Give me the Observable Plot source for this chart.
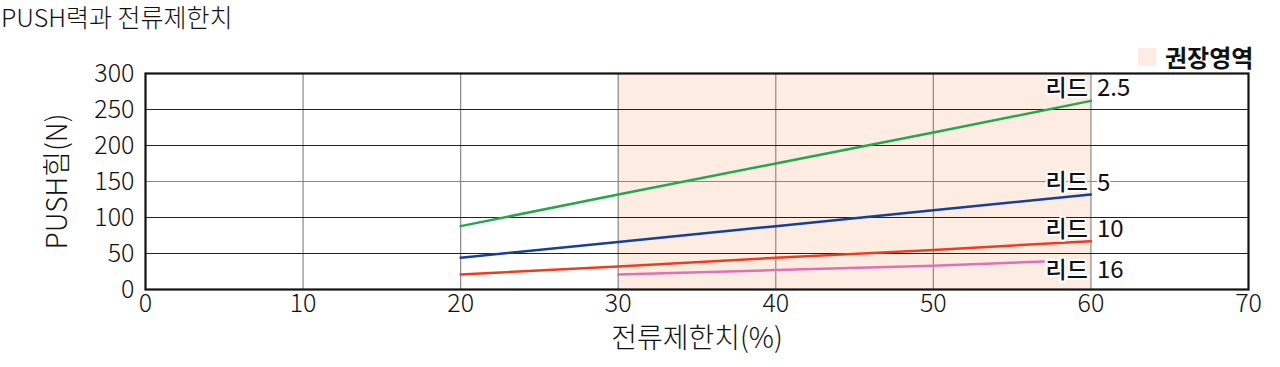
<!DOCTYPE html>
<html><head><meta charset="utf-8">
<script src="https://cdn.jsdelivr.net/npm/d3@7"></script>
<script src="https://cdn.jsdelivr.net/npm/@observablehq/plot@0.6"></script>
<style>
body{margin:0;background:#fff;font-family:"Noto Sans CJK KR","Noto Sans",sans-serif;}
#wrap{position:relative;width:1280px;height:367px;}
#title{position:absolute;left:1px;top:0px;font-size:25px;font-weight:300;color:#111;line-height:32px;}
#legend{position:absolute;left:1138px;top:42px;font-size:24px;font-weight:bold;color:#111;display:flex;align-items:center;line-height:30px;}
#legend span.sw{display:inline-block;width:18px;height:18px;background:#fdece2;margin-right:9px;}
#chart{position:absolute;left:0;top:38px;}
#chart g[aria-label="x-axis label"], #chart g[aria-label="y-axis label"]{font-size:28px;}
</style></head>
<body><div id="wrap"><div id="title">PUSH력과 전류제한치</div>
<div id="legend"><span class="sw"></span><span>권장영역</span></div>
<div id="chart"></div></div>
<script>
const currentLimit = [20, 30, 40, 50, 60];
const lead25 = [88, 132, 175, 218, 262];
const lead5 = [44, 66, 88, 110, 132];
const lead10 = [21, 32, 44, 55, 67];
const lead16X = [30, 40, 50, 57];
const lead16 = [21, 27, 33, 39];
const seriesNames = ["2.5", "5", "10", "16"];
const seriesColors = ["#25a84b", "#143f9b", "#f03c1c", "#e070b8"];
const labelY = [279, 148, 83, 26];
const xTicks = [0, 10, 20, 30, 40, 50, 60, 70];
const yTicks = [0, 50, 100, 150, 200, 250, 300];
const recommended = [30, 60];

const rows = [];
[lead25, lead5, lead10].forEach((vals, i) => vals.forEach((v, j) => rows.push({s: seriesNames[i], x: currentLimit[j], y: v})));
lead16.forEach((v, j) => rows.push({s: "16", x: lead16X[j], y: v}));
const labels = seriesNames.map((s, i) => ({s, x: 60, y: labelY[i]}));

const chart = Plot.plot({
  width: 1280, height: 329,
  marginTop: 35, marginBottom: 78, marginLeft: 145, marginRight: 32,
  style: {fontFamily: '"Noto Sans CJK KR","Noto Sans",sans-serif', fontSize: "25px", fontWeight: 300, color: "#111"},
  x: {domain: [0, 70], ticks: xTicks, tickSize: 0, tickPadding: 5, label: "전류제한치(%)", labelArrow: "none", labelAnchor: "center", labelOffset: 58},
  y: {domain: [0, 300], ticks: yTicks, tickSize: 0, tickPadding: 11, label: "PUSH힘(N)", labelArrow: "none", labelAnchor: "center", labelOffset: 98},
  color: {domain: seriesNames, range: seriesColors},
  marks: [
    Plot.rectX([recommended], {x1: d => d[0], x2: d => d[1], fill: "#fdece2"}),
    Plot.ruleX([10, 20, 30, 40, 50, 60], {stroke: "#888", strokeWidth: 1.2}),
    Plot.ruleY([50, 100, 200, 250], {stroke: "#222", strokeWidth: 1}),
    Plot.ruleY([150], {stroke: "#888", strokeWidth: 1.2}),
    Plot.line(rows, {x: "x", y: "y", z: "s", stroke: "s", strokeWidth: 2.5}),
    Plot.text(labels, {x: "x", y: "y", text: () => "리드", textAnchor: "end", dx: -3, fontSize: 23, fontWeight: 500, fill: "#111", stroke: "white", strokeWidth: 4}),
    Plot.text(labels, {x: "x", y: "y", text: "s", textAnchor: "start", dx: 6, fontSize: 24, fontWeight: 400, fill: "#111", stroke: "white", strokeWidth: 4}),
    Plot.frame({stroke: "#111", strokeWidth: 2.2})
  ]
});
document.getElementById("chart").appendChild(chart);
</script></body></html>
